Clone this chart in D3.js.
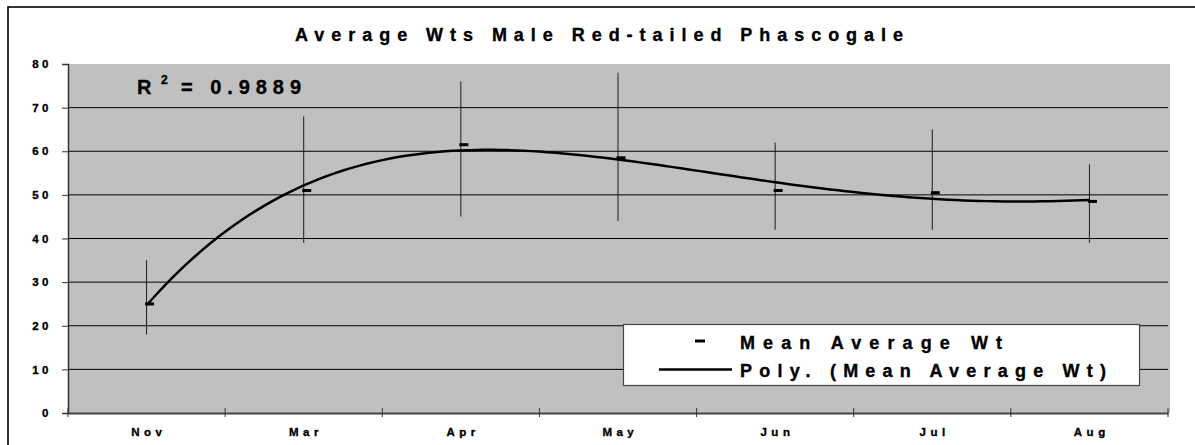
<!DOCTYPE html>
<html>
<head>
<meta charset="utf-8">
<script src="https://cdn.jsdelivr.net/npm/d3@7"></script>
<style>
  body { margin: 0; background: #fff; }
  svg { display: block; font-family: "Liberation Sans", Arial, sans-serif; font-weight: bold; }
  svg text { stroke: #000; stroke-width: 0.35px; }
</style>
</head>
<body>
<svg width="1195" height="445"></svg>
<script>

const months = ['Nov', 'Mar', 'Apr', 'May', 'Jun', 'Jul', 'Aug'];
const meanWt = [25, 51, 61.5, 58.5, 51, 50.5, 48.5];
const lowWt = [18, 39, 45, 44, 42, 42, 39];
const highWt = [35, 68, 76, 78, 62, 65, 57];
const yTicks = [0, 10, 20, 30, 40, 50, 60, 70, 80];

const svg = d3.select('svg');

const plotL = 68, plotR = 1168, plotT = 64, plotB = 413;

const x = d3.scaleBand().domain(months).range([plotL, plotR]);
const y = d3.scaleLinear().domain([0, 80]).range([plotB, plotT]);
const bw = x.bandwidth();

// outer frame
svg.append('rect')
    .attr('x', 8).attr('y', 7)
    .attr('width', 1250).attr('height', 500)
    .attr('fill', 'none')
    .attr('stroke', '#000')
    .attr('stroke-width', 1.6);

svg.append('text')
    .attr('x', 295).attr('y', 41)
    .attr('font-size', 18)
    .attr('textLength', 608)
    .attr('lengthAdjust', 'spacing')
    .text('Average Wts Male Red-tailed Phascogale');

// plot area
svg.append('rect')
    .attr('x', plotL).attr('y', plotT)
    .attr('width', plotR - plotL + 2).attr('height', plotB - plotT)
    .attr('fill', '#c0c0c0');

svg.selectAll('.grid')
    .data(yTicks.filter(d => d > 0 && d < 80))
    .enter()
    .append('line')
        .attr('x1', plotL).attr('x2', plotR)
        .attr('y1', d => y(d)).attr('y2', d => y(d))
        .attr('stroke', '#000')
        .attr('stroke-width', 1);

// y axis
const yAxis = svg.append('g')
    .attr('transform', `translate(${plotL},0)`)
    .call(d3.axisLeft(y).tickValues(yTicks).tickSize(6).tickPadding(10));
yAxis.select('.domain').attr('stroke', '#333').attr('stroke-width', 1.5);
yAxis.selectAll('.tick line').attr('stroke', '#333');
yAxis.selectAll('text')
    .attr('font-size', 11.5)
    .attr('font-family', '"Liberation Sans", Arial, sans-serif')
    .attr('font-weight', 'bold')
    .attr('fill', '#000')
    .style('letter-spacing', '3.5px');

// x axis
const xAxis = svg.append('g')
    .attr('transform', `translate(0,${plotB})`)
    .call(d3.axisBottom(x).tickSize(0).tickPadding(15).tickSizeOuter(0));
xAxis.select('.domain').attr('stroke', '#444').attr('stroke-width', 2);
xAxis.selectAll('text')
    .attr('font-size', 11.5)
    .attr('font-family', '"Liberation Sans", Arial, sans-serif')
    .attr('font-weight', 'bold')
    .attr('fill', '#000')
    .attr('dx', '0.2em')
    .style('letter-spacing', '4.5px');

const bounds = months.map(d => x(d)).concat([plotR]);
svg.selectAll('.xtick')
    .data(bounds)
    .enter()
    .append('line')
        .attr('x1', d => d).attr('x2', d => d)
        .attr('y1', plotB - 5).attr('y2', plotB + 4)
        .attr('stroke', '#333');

// error bars
svg.selectAll('.err')
    .data(months)
    .enter()
    .append('line')
        .attr('x1', d => x(d) + bw / 2).attr('x2', d => x(d) + bw / 2)
        .attr('y1', (d, i) => y(lowWt[i]))
        .attr('y2', (d, i) => y(highWt[i]))
        .attr('stroke', '#1a1a1a')
        .attr('stroke-width', 1);

// polynomial trend (order 4 least squares, like the Excel trendline)
const order = 4;
const xs = months.map((d, i) => i + 1);
const A = [], b = [];
for (let r = 0; r <= order; r++) {
    A.push(d3.range(order + 1).map(c => d3.sum(xs, v => Math.pow(v, r + c))));
    b.push(d3.sum(xs, (v, i) => meanWt[i] * Math.pow(v, r)));
}
for (let c = 0; c <= order; c++) {
    for (let r = c + 1; r <= order; r++) {
        const f = A[r][c] / A[c][c];
        for (let k = c; k <= order; k++) A[r][k] -= f * A[c][k];
        b[r] -= f * b[c];
    }
}
const coef = new Array(order + 1).fill(0);
for (let r = order; r >= 0; r--) {
    let s = b[r];
    for (let k = r + 1; k <= order; k++) s -= A[r][k] * coef[k];
    coef[r] = s / A[r][r];
}
const poly = t => d3.sum(coef, (c, k) => c * Math.pow(t, k));

const xi = d3.scaleLinear().domain([1, months.length])
    .range([x(months[0]) + bw / 2, x(months[months.length - 1]) + bw / 2]);

svg.append('path')
    .datum(d3.range(1, months.length + 0.001, 0.05))
    .attr('d', d3.line().x(t => xi(t)).y(t => y(poly(t))))
    .attr('fill', 'none')
    .attr('stroke', '#000')
    .attr('stroke-width', 2.5);

// mean markers (dash)
svg.selectAll('.mark')
    .data(months)
    .enter()
    .append('rect')
        .attr('x', d => x(d) + bw / 2 - 1.5)
        .attr('y', (d, i) => y(meanWt[i]) - 1.5)
        .attr('width', 9).attr('height', 3)
        .attr('fill', '#000');

// R squared
svg.append('text').attr('x', 137).attr('y', 94).attr('font-size', 20).text('R');
svg.append('text').attr('x', 161).attr('y', 84).attr('font-size', 12).text('2');
svg.append('text')
    .attr('x', 181).attr('y', 94)
    .attr('font-size', 20)
    .attr('textLength', 120)
    .attr('lengthAdjust', 'spacing')
    .text('= 0.9889');

// legend
const legend = svg.append('g');
legend.append('rect')
    .attr('x', 623.5).attr('y', 324.5)
    .attr('width', 516).attr('height', 61)
    .attr('fill', '#fff')
    .attr('stroke', '#444')
    .attr('stroke-width', 1.2);
legend.append('rect')
    .attr('x', 695).attr('y', 339.5)
    .attr('width', 10).attr('height', 3)
    .attr('fill', '#000');
legend.append('line')
    .attr('x1', 659).attr('x2', 732)
    .attr('y1', 369.5).attr('y2', 369.5)
    .attr('stroke', '#000')
    .attr('stroke-width', 2.5);
legend.append('text')
    .attr('x', 740).attr('y', 348.5)
    .attr('font-size', 18)
    .attr('textLength', 262)
    .attr('lengthAdjust', 'spacing')
    .text('Mean Average Wt');
legend.append('text')
    .attr('x', 740).attr('y', 376.5)
    .attr('font-size', 18)
    .attr('textLength', 366)
    .attr('lengthAdjust', 'spacing')
    .text('Poly. (Mean Average Wt)');

</script>
</body>
</html>
